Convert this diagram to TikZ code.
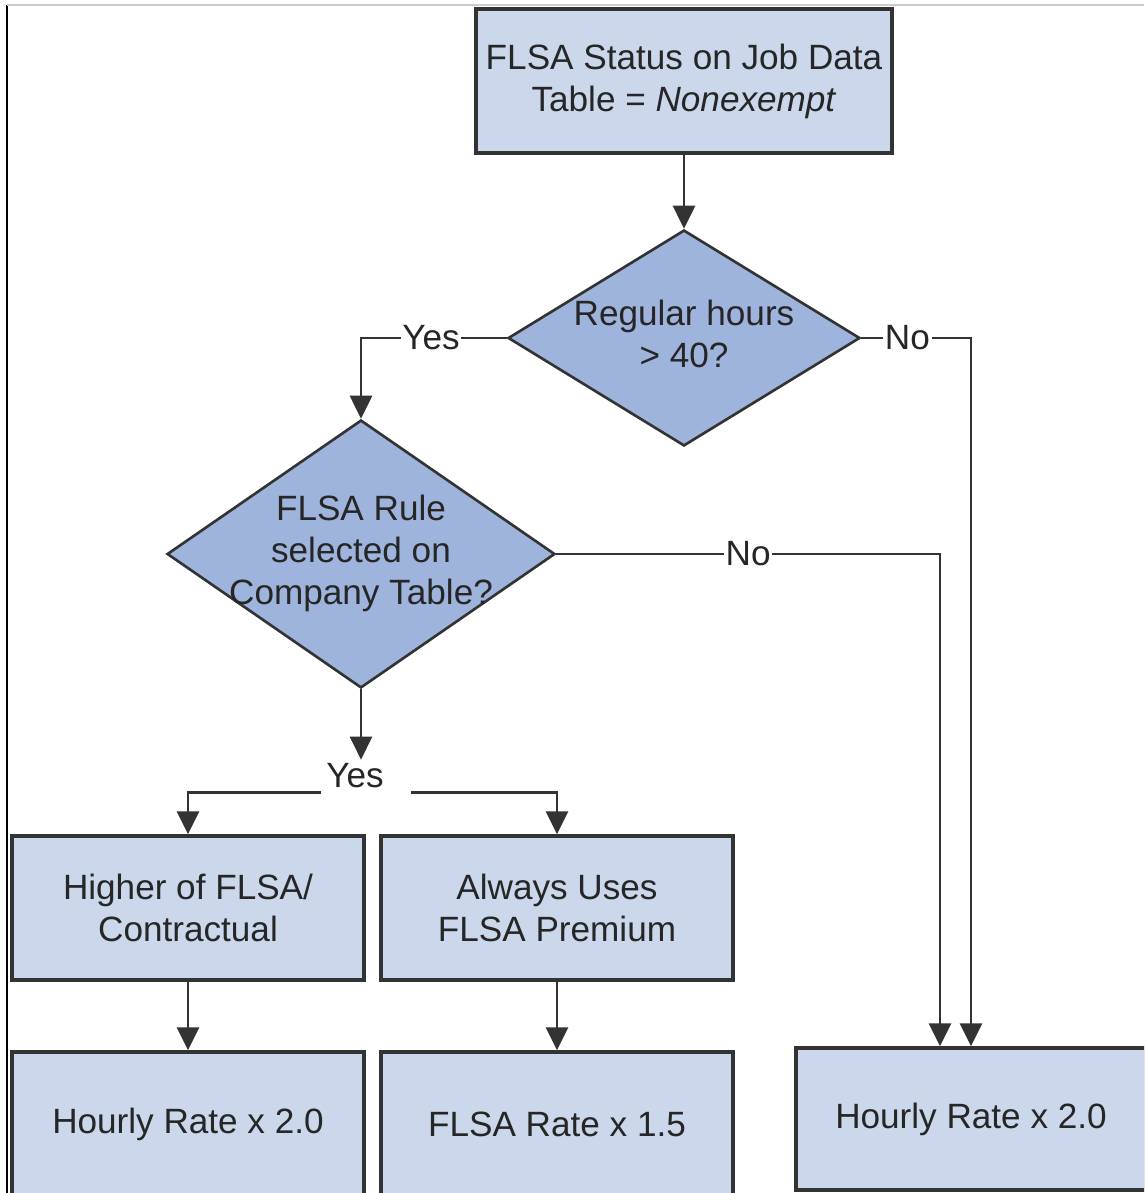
\documentclass[tikz,border=0pt]{standalone}
\usepackage{fontspec}
\setmainfont{Liberation Sans}
\usetikzlibrary{shapes.geometric,arrows.meta}

\definecolor{boxfill}{HTML}{CBD8EB}
\definecolor{diafill}{HTML}{9EB4DC}
\definecolor{linegray}{HTML}{333333}

\tikzset{
  stepbox/.style={draw=linegray, line width=2pt, fill=boxfill, align=center,
    minimum width=7.04cm, minimum height=2.88cm, inner sep=0pt},
  choice/.style={diamond, draw=linegray, line width=1.5pt, fill=diafill, inner sep=0pt},
  flow/.style={draw=linegray, line width=1.6pt, -{Triangle[length=0.46cm,width=0.44cm]}},
  tag/.style={fill=white, inner sep=1pt},
}

\begin{document}
\begin{tikzpicture}[x=0.02cm, y=-0.02cm, font=\fontsize{20}{24}\selectfont, text=black!85]
\useasboundingbox (0,0) rectangle (1144,1193);
\clip (0,0) rectangle (1144,1193);
% frame of the page
\draw[black, line width=1pt] (7,5) -- (7,1193);
\draw[black!20, line width=1pt] (7,5) -- (1144,5);
% status and the two tests
\node[stepbox, minimum width=8.32cm] (status) at (684,81) {FLSA Status on Job Data\\Table = \textit{Nonexempt}};
\node[choice, minimum width=7.04cm, minimum height=4.32cm] (hours) at (684,338)
  {\makebox[0pt]{\begin{tabular}{@{}c@{}}Regular hours\\> 40?\end{tabular}}};
\node[choice, minimum width=7.76cm, minimum height=5.36cm] (rule) at (361,554)
  {\makebox[0pt]{\begin{tabular}{@{}c@{}}FLSA Rule\\selected on\\Company Table?\end{tabular}}};
\node[minimum width=1.78cm, minimum height=0.64cm, inner sep=0pt] (fork) at (366,776) {\hspace*{-0.44cm}Yes};
% outcomes
\node[stepbox] (higher) at (188,908) {Higher of FLSA/\\Contractual};
\node[stepbox] (always) at (557,908) {Always Uses\\FLSA Premium};
\node[stepbox] (rate1) at (188,1124) {Hourly Rate x 2.0};
\node[stepbox] (rate2) at (557,1124) {FLSA Rate x 1.5};
\node[stepbox, minimum width=7cm, minimum height=2.84cm] (final) at (971,1119) {Hourly Rate x 2.0};
% connectors
\draw[flow] (status) -- (hours);
\draw[flow] (hours.west) -| node[tag, pos=0.26] {Yes} (rule.north);
\draw[flow] (hours.east) -| node[tag, pos=0.21] {No} (final.north);
\draw[flow] (rule.east) -| node[tag, pos=0.25] {No} ([xshift=-0.62cm]final.north);
\draw[flow] (rule.south) -- (rule.south |- fork.north);
\draw[flow] (fork.south west) -| (higher.north);
\draw[flow] (fork.south east) -| (always.north);
\draw[flow] (higher) -- (rate1);
\draw[flow] (always) -- (rate2);
\end{tikzpicture}
\end{document}
